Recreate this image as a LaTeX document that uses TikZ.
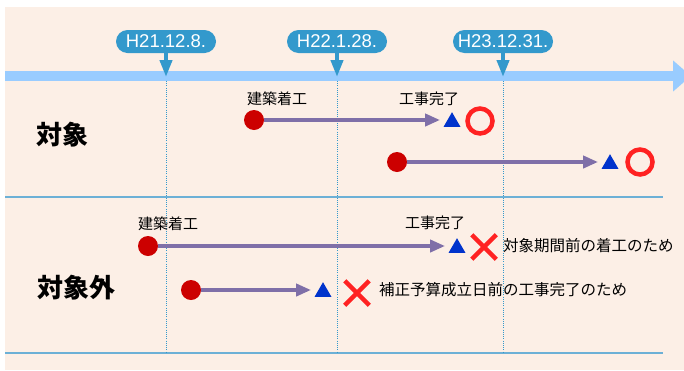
\documentclass[tikz,border=0pt]{standalone}
\usepackage{fontspec}
\setmainfont{Liberation Sans}
\newfontfamily\jp{Noto Sans CJK JP}
\usetikzlibrary{arrows.meta,shapes.geometric,shapes.misc}

\definecolor{bgpeach}{HTML}{FCEFE6}
\definecolor{bandblue}{HTML}{99CCFF}
\definecolor{dateblue}{HTML}{3399CC}
\definecolor{lineblue}{HTML}{6CB0D6}
\definecolor{flowpurple}{HTML}{7F6FA8}
\definecolor{dotred}{HTML}{CC0000}
\definecolor{triblue}{HTML}{0033CC}
\definecolor{markred}{HTML}{FF2222}

\begin{document}
\begin{tikzpicture}[x=1pt,y=-1pt,
    date node/.style={fill=dateblue,text=white,rounded corners=11.5pt,
                      minimum width=100pt,minimum height=23pt,inner sep=0pt,
                      font=\fontsize{18.5}{18.5}\selectfont},
    start node/.style={circle,fill=dotred,inner sep=0pt,minimum size=20pt},
    end node/.style={regular polygon,regular polygon sides=3,fill=triblue,
                     inner sep=0pt,minimum size=19.6pt},
    ok node/.style={circle,draw=markred,line width=4.5pt,inner sep=0pt,minimum size=25pt},
    ng node/.style={cross out,draw=markred,line width=4.5pt,inner sep=0pt,minimum size=20pt},
    lab/.style={inner sep=0pt,font=\jp\fontsize{15}{15}\selectfont},
    reason/.style={inner sep=0pt,anchor=west,font=\jp\fontsize{15.5}{15.5}\selectfont},
    group/.style={inner sep=0pt,font=\jp\bfseries\fontsize{26}{26}\selectfont},
    flow/.style={draw=flowpurple,line width=4pt,shorten >=6pt,
                 -{Triangle[width=12pt,length=15pt]}},
    pointer/.style={draw=dateblue,line width=4pt,-{Triangle[width=12pt,length=17pt]}},
    tick/.style={draw=dateblue,line width=0.8pt,dash pattern=on 1pt off 1.2pt},
    sep/.style={draw=lineblue,line width=2.5pt}]
  \useasboundingbox (0,0) rectangle (684,370);
  \fill[bgpeach] (5,7) rectangle (684,370);

  % separators
  \coordinate (mid left) at (5,197);
  \coordinate (mid right) at (663,197);
  \coordinate (low left) at (5,353);
  \coordinate (low right) at (663,353);
  \draw[sep] (mid left) -- (mid right);
  \draw[sep] (low left) -- (low right);

  % time axis
  \coordinate (axis start) at (5,76);
  \coordinate (axis end) at (691,76);
  \coordinate (tipline) at (0,77);
  \coordinate (axis low) at (0,81);
  \node[date node] (d1) at (166,41.5) {H21.12.8.};
  \node[date node] (d2) at (337,41.5) {H22.1.28.};
  \node[date node] (d3) at (503,41.5) {H23.12.31.};
  \foreach \d in {d1,d2,d3}
    \draw[tick] (\d.south |- axis low) -- (\d.south |- low left);
  \draw[bandblue,line width=10pt,-{Triangle[width=30pt,length=18pt]}]
    (axis start) -- (axis end);
  \foreach \d in {d1,d2,d3}
    \draw[pointer] (\d.south) -- (\d.south |- tipline);

  % groups
  \node[group] (in)  at (62,135) {対象};
  \node[group] (out) at (76,288) {対象外};

  % row 1
  \node[start node] (s1) at (254,120) {};
  \node[end node] (e1) at (452,122) {};
  \node[ok node] (m1) at (480,121) {};
  \node[lab] (k1) at (277,99) {建築着工};
  \node[lab] (c1) at (429,99) {工事完了};
  \draw[flow] (s1) -- (s1 -| e1.west);

  % row 2
  \node[start node] (s2) at (397,162) {};
  \node[end node] (e2) at (610,164) {};
  \node[ok node] (m2) at (640,162) {};
  \draw[flow] (s2) -- (s2 -| e2.west);

  % row 3
  \node[start node] (s3) at (148,246) {};
  \node[end node] (e3) at (457,248) {};
  \node[ng node] (m3) at (484,247) {};
  \node[lab] (k3) at (168,224) {建築着工};
  \node[lab] (c3) at (435,223) {工事完了};
  \node[reason] (r3) at (503,246) {対象期間前の着工のため};
  \draw[flow] (s3) -- (s3 -| e3.west);

  % row 4
  \node[start node] (s4) at (191,290) {};
  \node[end node] (e4) at (323,292) {};
  \node[ng node] (m4) at (357,293) {};
  \node[reason] (r4) at (379,290) {補正予算成立日前の工事完了のため};
  \draw[flow] (s4) -- (s4 -| e4.west);
\end{tikzpicture}
\end{document}
